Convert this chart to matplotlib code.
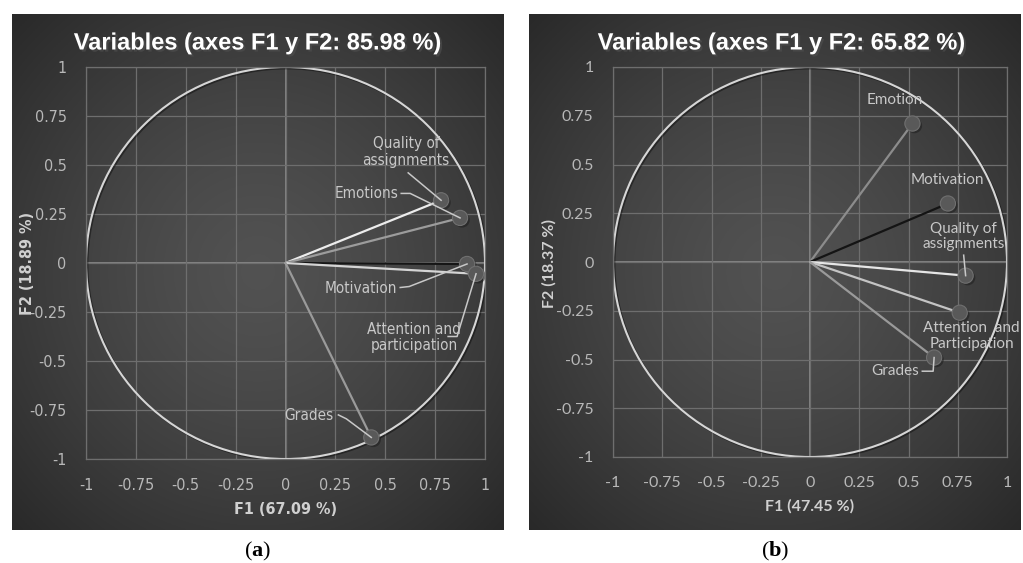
import numpy as np
import matplotlib
matplotlib.use("Agg")
import matplotlib.pyplot as plt
from matplotlib.patches import Ellipse
import matplotlib.patheffects as pe

plt.rcParams['mathtext.fontset'] = 'custom'
plt.rcParams['mathtext.rm'] = 'Liberation Serif'
plt.rcParams['mathtext.bf'] = 'Liberation Serif:bold'

vars_a = ["Quality of\nassignments", "Emotions", "Motivation", "Attention and\nparticipation", "Grades"]
f1_a = [0.78, 0.875, 0.91, 0.955, 0.43]
f2_a = [0.32, 0.23, -0.005, -0.055, -0.89]
title_a = "Variables (axes F1 y F2: 85.98 %)"
xlab_a = "F1 (67.09 %)"
ylab_a = "F2 (18.89 %)"

vars_b = ["Emotion", "Motivation", "Quality of\nassignments", "Attention  and\nParticipation", "Grades"]
f1_b = [0.52, 0.70, 0.79, 0.76, 0.63]
f2_b = [0.71, 0.30, -0.07, -0.26, -0.49]
title_b = "Variables (axes F1 y F2: 65.82 %)"
xlab_b = "F1 (47.45 %)"
ylab_b = "F2 (18.37 %)"

ticks = [-1, -0.75, -0.5, -0.25, 0, 0.25, 0.5, 0.75, 1]

# layout: vector colours, label spots and leader elbows (data coords)
line_cols_a = ["#ececec", "#9c9c9c", "#151515", "#d4d4d4", "#9a9a9a"]
label_pos_a = [(0.605, 0.565), (0.405, 0.355), (0.38, -0.13), (0.645, -0.38), (0.115, -0.78)]
elbows_a = [[(0.615, 0.46)],
            [(0.58, 0.355), (0.625, 0.355)],
            [(0.575, -0.125), (0.62, -0.12)],
            [(0.815, -0.375), (0.86, -0.375)],
            [(0.265, -0.775), (0.305, -0.795)]]

line_cols_b = ["#8c8c8c", "#141414", "#e6e6e6", "#c4c4c4", "#9a9a9a"]
label_pos_b = [(0.43, 0.83), (0.695, 0.42), (0.78, 0.13), (0.82, -0.38), (0.43, -0.56)]
elbows_b = [None, None,
            [(0.78, 0.035)],
            None,
            [(0.57, -0.56), (0.625, -0.56)]]

W, H = 1023, 563
fig = plt.figure(figsize=(W / 100, H / 100), dpi=100)
fig.patch.set_facecolor("white")


def fx(px):
    return px / W


def fy(py):
    return 1 - py / H


def panel_bg(x0, x1, y0, y1):
    bg = fig.add_axes([fx(x0), fy(y1), fx(x1 - x0), (y1 - y0) / H], zorder=0)
    nx, ny = 300, 300
    xx, yy = np.meshgrid(np.linspace(-1, 1, nx), np.linspace(-1, 1, ny))
    r = np.sqrt(xx ** 2 + yy ** 2) / np.sqrt(2)
    v = 0.32 - 0.16 * r ** 1.4
    img = np.dstack([v, v, v])
    bg.imshow(img, aspect="auto", extent=[0, 1, 0, 1])
    bg.set_axis_off()


def draw_panel(box, bg_box, title, xlab, ylab, names, xs, ys, cols, lpos, elbows,
               font, stretch, ylab_x, title_x):
    panel_bg(*bg_box)
    ax = fig.add_axes(box, zorder=1)
    ax.set_facecolor("none")
    ax.set_xlim(-1, 1)
    ax.set_ylim(-1, 1)
    ax.set_xticks(ticks)
    ax.set_yticks(ticks)
    ax.set_xticklabels([f"{t:g}" for t in ticks], family=font, stretch=stretch)
    ax.set_yticklabels([f"{t:g}" for t in ticks], family=font, stretch=stretch)
    ax.tick_params(length=0, labelsize=11.5, colors="#b8b8b8", pad=14)
    ax.grid(True, color="#6e6e6e", lw=0.9)
    for s in ax.spines.values():
        s.set_color("#6e6e6e")
        s.set_linewidth(0.9)
    ax.axhline(0, color="#8e8e8e", lw=1.2, zorder=1)
    ax.axvline(0, color="#8e8e8e", lw=1.2, zorder=1)

    circ = Ellipse((0, 0), 2, 2, fill=False, ec="#d6d6d6", lw=1.5, zorder=2,
                   path_effects=[pe.SimpleLineShadow(offset=(1, -1), alpha=0.4), pe.Normal()])
    ax.add_patch(circ)

    for i in range(len(names)):
        ax.plot([0, xs[i]], [0, ys[i]], color=cols[i], lw=1.6, zorder=3, solid_capstyle="round")
    ax.scatter(xs, ys, s=120, color="#595959", edgecolor="#707070", lw=0.8, zorder=4,
               path_effects=[pe.SimplePatchShadow(offset=(1.5, -1.5), alpha=0.5), pe.Normal()])

    for i, name in enumerate(names):
        ax.text(lpos[i][0], lpos[i][1], name, ha="center", va="center", color="#c8c8c8",
                fontsize=11, family=font, stretch=stretch, linespacing=1.15, zorder=5)
        if elbows[i] is not None:
            pts = elbows[i] + [(xs[i], ys[i])]
            ax.plot([p[0] for p in pts], [p[1] for p in pts], color="#c8c8c8", lw=1.1, zorder=5)

    ax.set_xlabel(xlab, color="#d0d0d0", fontsize=11.5, fontweight="bold", family=font,
                  stretch=stretch, labelpad=6)
    fig.text(fx(ylab_x), fy(263), ylab, rotation=90, ha="center", va="center", color="#d0d0d0",
             fontsize=11.5, fontweight="bold", family=font, stretch=stretch)
    fig.text(fx(title_x), fy(43), title, ha="center", va="center", color="white", fontsize=17,
             fontweight="bold", family=["Liberation Sans", "DejaVu Sans"],
             path_effects=[pe.withSimplePatchShadow(offset=(1.5, -1.5), alpha=0.7)])
    return ax


draw_panel([fx(86), fy(459), 399 / W, 392 / H], (12, 504, 14, 530),
           title_a, xlab_a, ylab_a, vars_a, f1_a, f2_a, line_cols_a, label_pos_a, elbows_a,
           ["DejaVu Sans"], "condensed", 27, 258)
draw_panel([fx(613), fy(457), 394 / W, 390 / H], (529, 1021, 14, 530),
           title_b, xlab_b, ylab_b, vars_b, f1_b, f2_b, line_cols_b, label_pos_b, elbows_b,
           ["Lato", "DejaVu Sans"], "normal", 549, 782)

fig.text(fx(258), fy(551), r"($\mathbf{a}$)", ha="center", va="center", fontsize=16,
         family="Liberation Serif", color="black")
fig.text(fx(775), fy(551), r"($\mathbf{b}$)", ha="center", va="center", fontsize=16,
         family="Liberation Serif", color="black")

fig.savefig("out.png", dpi=100, facecolor="white")
